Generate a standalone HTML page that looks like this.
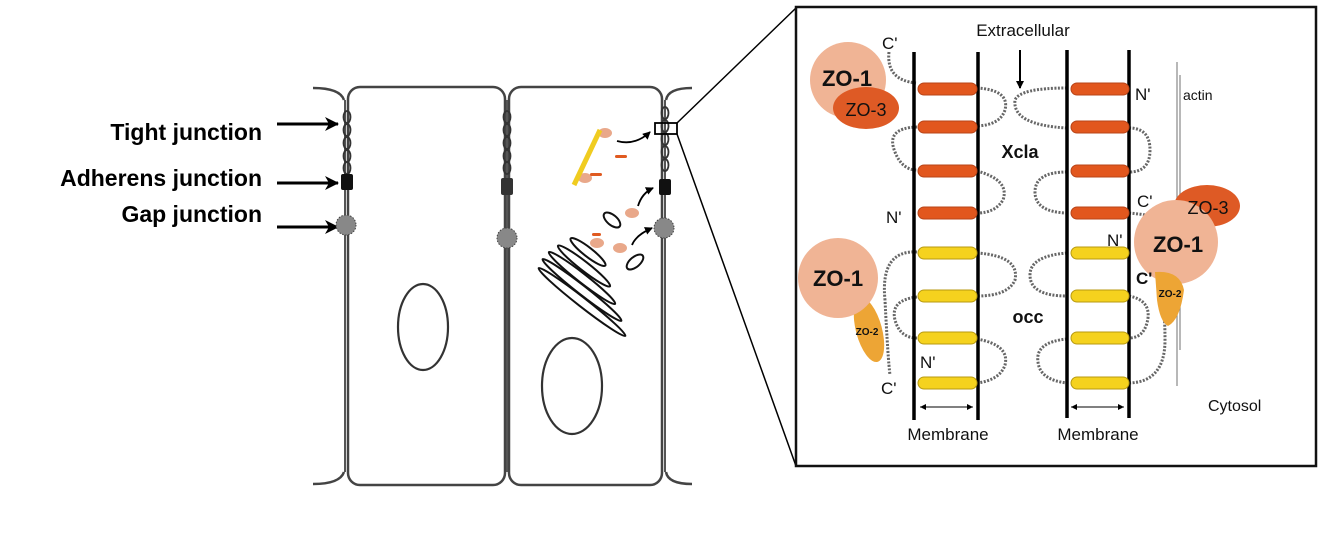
<!DOCTYPE html>
<html><head><meta charset="utf-8"><style>
html,body{margin:0;padding:0;background:#fff;width:1321px;height:540px;overflow:hidden}
svg{display:block}
text{font-family:"Liberation Sans",Arial,sans-serif}
</style></head><body>
<svg width="1321" height="540" viewBox="0 0 1321 540" xmlns="http://www.w3.org/2000/svg">
<defs>
<marker id="ah" markerWidth="8" markerHeight="8" refX="7" refY="4" orient="auto" markerUnits="userSpaceOnUse"><path d="M0,0 L8,4 L0,8 z" fill="#000"/></marker>
<marker id="ahb" markerWidth="14" markerHeight="14" refX="13" refY="7" orient="auto" markerUnits="userSpaceOnUse"><path d="M0,0 L14,7 L0,14 L4,7 z" fill="#000"/></marker>
<marker id="as" markerWidth="6" markerHeight="6" refX="6" refY="3" orient="auto" markerUnits="userSpaceOnUse"><path d="M0,0 L6,3 L0,6 z" fill="#000"/></marker>
</defs>

<!-- Left labels -->
<g font-weight="bold" font-size="23" text-anchor="end" fill="#000">
<text x="262" y="140">Tight junction</text>
<text x="262" y="186">Adherens junction</text>
<text x="262" y="222">Gap junction</text>
</g>
<g stroke="#000" stroke-width="3" marker-end="url(#ahb)">
<line x1="277" y1="124" x2="338" y2="124"/>
<line x1="277" y1="183" x2="338" y2="183"/>
<line x1="277" y1="227" x2="338" y2="227"/>
</g>

<!-- Cells -->
<g fill="none" stroke="#444" stroke-width="2.5">
<rect x="348" y="87" width="157" height="398" rx="12"/>
<rect x="509" y="87" width="153" height="398" rx="12"/>
<path d="M313,88 Q340,88 344,100 M344,472 Q340,484 313,484"/>
<path d="M692,88 Q668,88 666,100 M666,472 Q668,484 692,484"/>
</g>
<g stroke="#555" stroke-width="2" fill="none">
<line x1="345" y1="100" x2="345" y2="472"/><line x1="507" y1="100" x2="507" y2="472"/><line x1="665" y1="100" x2="665" y2="472"/>
</g>
<!-- tight junction chains -->
<g fill="none" stroke="#333" stroke-width="1.8">
<ellipse cx="347" cy="117" rx="3.5" ry="6"/><ellipse cx="347" cy="130" rx="3.5" ry="6"/><ellipse cx="347" cy="143" rx="3.5" ry="6"/><ellipse cx="347" cy="156" rx="3.5" ry="6"/><ellipse cx="347" cy="168" rx="3.5" ry="6"/>
<ellipse cx="507" cy="117" rx="3.5" ry="6"/><ellipse cx="507" cy="130" rx="3.5" ry="6"/><ellipse cx="507" cy="143" rx="3.5" ry="6"/><ellipse cx="507" cy="156" rx="3.5" ry="6"/><ellipse cx="507" cy="168" rx="3.5" ry="6"/>
<ellipse cx="665" cy="113" rx="3.5" ry="6"/><ellipse cx="665" cy="126" rx="3.5" ry="6"/><ellipse cx="665" cy="139" rx="3.5" ry="6"/><ellipse cx="665" cy="152" rx="3.5" ry="6"/><ellipse cx="665" cy="165" rx="3.5" ry="6"/>
</g>
<g fill="#111">
<rect x="341" y="174" width="12" height="16" rx="2"/><rect x="501" y="178" width="12" height="17" rx="2" fill="#333"/><rect x="659" y="179" width="12" height="16" rx="2"/>
</g>
<g fill="#888" stroke="#444" stroke-width="1" stroke-dasharray="1.5 1.5">
<circle cx="346" cy="225" r="10"/><circle cx="507" cy="238" r="10"/><circle cx="664" cy="228" r="10"/>
</g>
<!-- nuclei -->
<g fill="none" stroke="#333" stroke-width="2.2">
<ellipse cx="423" cy="327" rx="25" ry="43"/>
<ellipse cx="572" cy="386" rx="30" ry="48"/>
</g>
<!-- golgi -->
<g fill="none" stroke="#111" stroke-width="2">
<ellipse cx="582" cy="302" rx="55" ry="4.5" transform="rotate(38 582 302)"/>
<ellipse cx="582" cy="290" rx="50" ry="4.5" transform="rotate(38 582 290)"/>
<ellipse cx="582" cy="278" rx="42" ry="4.5" transform="rotate(38 582 278)"/>
<ellipse cx="584" cy="266" rx="33" ry="4.5" transform="rotate(38 584 266)"/>
<ellipse cx="588" cy="252" rx="22" ry="4.5" transform="rotate(38 588 252)"/>
<ellipse cx="612" cy="220" rx="10" ry="5" transform="rotate(40 612 220)"/>
<ellipse cx="635" cy="262" rx="10" ry="5" transform="rotate(-40 635 262)"/>
</g>
<g fill="#e9a88a">
<ellipse cx="632" cy="213" rx="7" ry="5"/><ellipse cx="597" cy="243" rx="7" ry="5"/><ellipse cx="620" cy="248" rx="7" ry="5"/>
<ellipse cx="605" cy="133" rx="7" ry="5"/><ellipse cx="585" cy="178" rx="7" ry="5"/>
</g>
<path d="M574,185 L600,130" stroke="#f0cc20" stroke-width="5"/>
<g fill="#e05a20"><rect x="615" y="155" width="12" height="3" rx="1.5"/><rect x="590" y="173" width="12" height="3" rx="1.5"/><rect x="592" y="233" width="9" height="3" rx="1.5"/></g>
<g stroke="#000" stroke-width="1.8" fill="none" marker-end="url(#ah)">
<path d="M617,141 Q635,146 650,132"/>
<path d="M638,206 Q642,193 653,188"/>
<path d="M632,245 Q636,235 652,228"/>
</g>
<rect x="655" y="123" width="22" height="11" fill="none" stroke="#000" stroke-width="1.8"/>
<line x1="677" y1="123" x2="796" y2="8" stroke="#000" stroke-width="1.5"/>
<line x1="677" y1="134" x2="796" y2="466" stroke="#000" stroke-width="1.5"/>

<!-- Right panel -->
<rect x="796" y="7" width="520" height="459" fill="#fff" stroke="#111" stroke-width="2.5"/>
<!-- beaded strands -->
<g fill="none" stroke="#666" stroke-width="3" stroke-dasharray="2 1.5">
<path d="M889,52 Q886,80 916,83"/>
<path d="M977,88 Q1010,90 1005,110 Q1000,125 977,126"/>
<path d="M917,127 Q885,128 895,152 Q902,170 917,170"/>
<path d="M977,171 Q1010,180 1003,200 Q995,213 977,213"/>
<path d="M1067,88 Q1020,88 1015,100 Q1012,125 1067,128"/>
<path d="M1129,128 Q1150,128 1150,150 Q1150,172 1129,172"/>
<path d="M1067,172 Q1035,172 1035,192 Q1035,212 1067,213"/>
<path d="M1129,213 Q1140,214 1145,215"/>
<path d="M917,252 Q880,250 885,300 Q888,360 890,375"/>
<path d="M977,253 Q1020,256 1015,280 Q1008,296 977,296"/>
<path d="M917,297 Q890,300 895,320 Q900,338 917,338"/>
<path d="M977,339 Q1010,345 1005,365 Q1000,380 977,383"/>
<path d="M1067,253 Q1030,256 1030,275 Q1030,296 1067,296"/>
<path d="M1129,296 Q1150,300 1148,318 Q1145,338 1129,338"/>
<path d="M1067,339 Q1035,342 1038,362 Q1040,380 1067,383"/>
<path d="M1129,383 Q1165,382 1165,340 Q1165,300 1158,280"/>
</g>
<!-- membranes -->
<g stroke="#000" stroke-width="3.5">
<line x1="914" y1="52" x2="914" y2="420"/><line x1="978" y1="52" x2="978" y2="420"/>
<line x1="1067" y1="50" x2="1067" y2="418"/><line x1="1129" y1="50" x2="1129" y2="418"/>
</g>
<!-- bars -->
<g fill="#e2571e" stroke="#b84418" stroke-width="1">
<rect x="918" y="83" width="59" height="12" rx="6"/><rect x="918" y="121" width="59" height="12" rx="6"/><rect x="918" y="165" width="59" height="12" rx="6"/><rect x="918" y="207" width="59" height="12" rx="6"/>
<rect x="1071" y="83" width="58" height="12" rx="6"/><rect x="1071" y="121" width="58" height="12" rx="6"/><rect x="1071" y="165" width="58" height="12" rx="6"/><rect x="1071" y="207" width="58" height="12" rx="6"/>
</g>
<g fill="#f5d21e" stroke="#b89a10" stroke-width="1">
<rect x="918" y="247" width="59" height="12" rx="6"/><rect x="918" y="290" width="59" height="12" rx="6"/><rect x="918" y="332" width="59" height="12" rx="6"/><rect x="918" y="377" width="59" height="12" rx="6"/>
<rect x="1071" y="247" width="58" height="12" rx="6"/><rect x="1071" y="290" width="58" height="12" rx="6"/><rect x="1071" y="332" width="58" height="12" rx="6"/><rect x="1071" y="377" width="58" height="12" rx="6"/>
</g>
<!-- actin -->
<g stroke="#888" stroke-width="1.2"><line x1="1177" y1="62" x2="1177" y2="386"/><line x1="1180" y1="75" x2="1180" y2="350"/></g>
<!-- extracellular arrow -->
<line x1="1020" y1="50" x2="1020" y2="88" stroke="#000" stroke-width="2" marker-end="url(#ah)"/>
<!-- membrane arrows -->
<g stroke="#000" stroke-width="1" marker-end="url(#as)">
<line x1="924" y1="407" x2="973" y2="407"/><line x1="968" y1="407" x2="920" y2="407"/>
<line x1="1075" y1="407" x2="1124" y2="407"/><line x1="1120" y1="407" x2="1071" y2="407"/>
</g>
<!-- ZO proteins -->
<circle cx="848" cy="80" r="38" fill="#f0b495"/>
<ellipse cx="866" cy="108" rx="33" ry="21" fill="#de5a25"/>
<ellipse cx="1207" cy="206" rx="33" ry="21" fill="#de5a25"/>
<circle cx="1176" cy="242" r="42" fill="#f0b495"/>
<path d="M1155,272 Q1180,270 1184,290 Q1180,320 1168,326 Q1160,322 1157,300 z" fill="#eda535"/>
<ellipse cx="869" cy="330" rx="13" ry="33" transform="rotate(-15 869 330)" fill="#eda535"/>
<circle cx="838" cy="278" r="40" fill="#f0b495"/>
<g font-weight="bold" fill="#111" text-anchor="middle">
<text x="847" y="86" font-size="22">ZO-1</text>
<text x="866" y="116" font-size="18" font-weight="normal">ZO-3</text>
<text x="1208" y="214" font-size="18" font-weight="normal">ZO-3</text>
<text x="1178" y="252" font-size="22">ZO-1</text>
<text x="838" y="286" font-size="22">ZO-1</text>
<text x="867" y="335" font-size="10">ZO-2</text>
<text x="1170" y="297" font-size="10">ZO-2</text>
</g>
<g fill="#111" font-size="17">
<text x="1023" y="36" text-anchor="middle">Extracellular</text>
<text x="1183" y="100" font-size="14">actin</text>
<text x="1020" y="158" text-anchor="middle" font-weight="bold" font-size="18">Xcla</text>
<text x="1028" y="323" text-anchor="middle" font-weight="bold" font-size="18">occ</text>
<text x="882" y="49">C'</text>
<text x="1135" y="100">N'</text>
<text x="1137" y="207">C'</text>
<text x="886" y="223">N'</text>
<text x="1107" y="246">N'</text>
<text x="1136" y="284" font-weight="bold">C'</text>
<text x="920" y="368">N'</text>
<text x="881" y="394">C'</text>
<text x="1208" y="411" font-size="16">Cytosol</text>
<text x="948" y="440" text-anchor="middle">Membrane</text>
<text x="1098" y="440" text-anchor="middle">Membrane</text>
</g>
</svg>
</body></html>
